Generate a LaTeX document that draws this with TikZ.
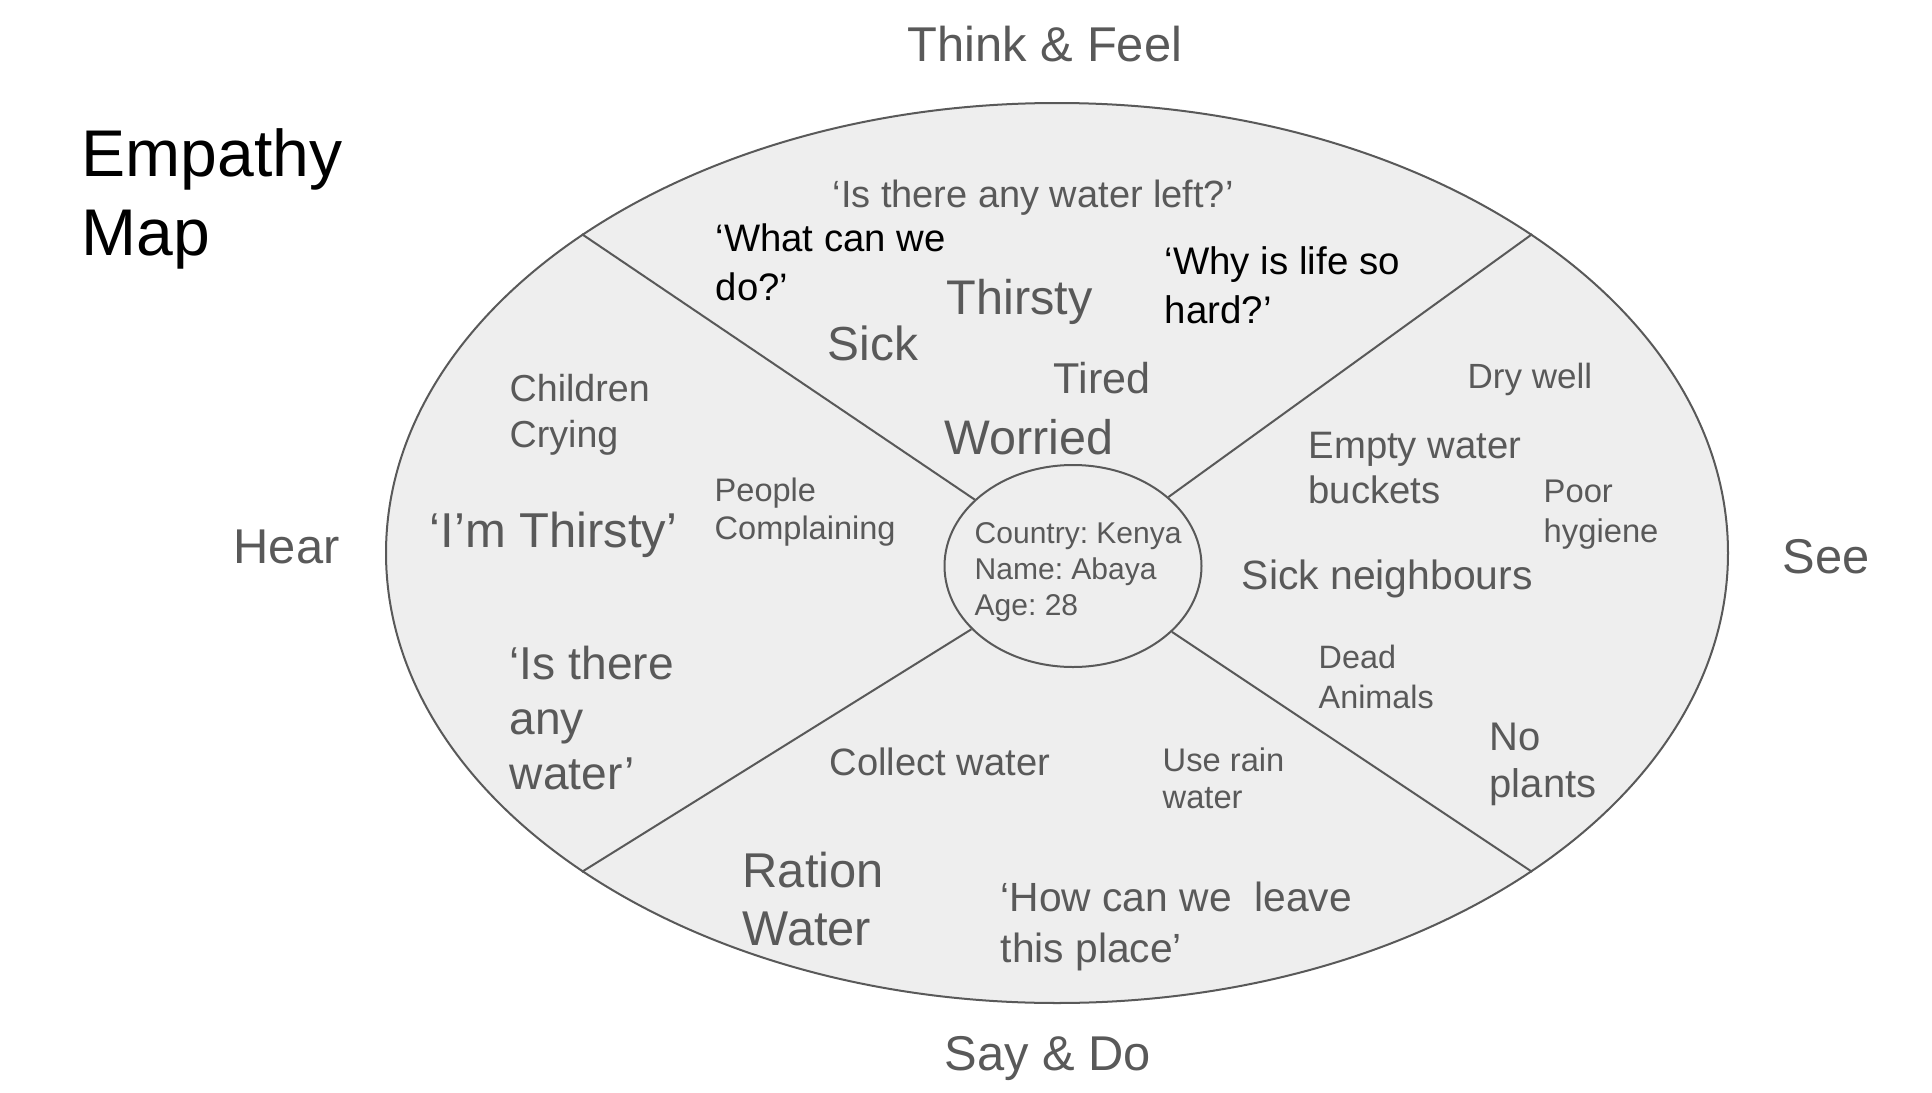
\documentclass[tikz,border=0pt]{standalone}
\usepackage{fontspec}
\setmainfont{Liberation Sans}
\usepackage{tikz}
\usetikzlibrary{shapes.geometric}

\definecolor{ink}{HTML}{595959}
\definecolor{pane}{HTML}{EEEEEE}
\newcommand{\sz}[2]{\fontsize{#1}{#2}\selectfont}
\frenchspacing

\tikzset{
  txt/.style={text=ink, inner sep=0pt, anchor=base west, align=left},
  side/.style={text=ink, inner sep=0pt, font=\sz{13.9}{16.7}},
  zone/.style={draw=ink, fill=pane, line width=0.57pt, ellipse, inner sep=0pt},
  split/.style={draw=ink, line width=0.57pt}
}

\begin{document}
\begin{tikzpicture}[x=0.1mm, y=-0.1mm]
\useasboundingbox (0,0) rectangle (1932,1093);

\node[zone, minimum width=134.2mm, minimum height=90mm] (map) at (1057,553) {};
\node[zone, minimum width=25.7mm, minimum height=20.2mm] (who) at (1073,566) {};
\draw[split] (map.north west) -- (who);
\draw[split] (map.north east) -- (who);
\draw[split] (map.south west) -- (who);
\draw[split] (map.south east) -- (who);

\node[txt, text=black, font=\sz{18.8}{22.2}] (title) at (81,255) {Empathy\\Map};

\node[side, anchor=base] (think) at (1045,61) {Think \& Feel};
\node[side, anchor=base west] (hear) at (233,563) {Hear};
\node[side, anchor=base west] (see) at (1782,573) {See};
\node[side, anchor=base] (say) at (1048,1070) {Say \& Do};

\node[txt, font=\sz{8.54}{10.24}] (info) at (974,615) {Country: Kenya\\Name: Abaya\\Age: 28};

\node[txt, font=\sz{10.8}{13}] (left) at (832,207) {‘Is there any water left?’};
\node[txt, text=black, font=\sz{10.9}{13.66}] (whatdo) at (715,300) {‘What can we\\do?’};
\node[txt, text=black, font=\sz{10.94}{13.66}] (whylife) at (1164,323) {‘Why is life so\\hard?’};
\node[txt, font=\sz{13.84}{16.6}] (thirsty) at (946,314) {Thirsty};
\node[txt, font=\sz{13.6}{16.3}] (sick) at (827,360) {Sick};
\node[txt, font=\sz{12.27}{14.7}] (tired) at (1053,393) {Tired};
\node[txt, font=\sz{13.8}{16.5}] (worried) at (944,454) {Worried};

\node[txt, font=\sz{10.7}{13.09}] (crying) at (509,447) {Children\\Crying};
\node[txt, font=\sz{13.93}{16.7}] (imthirsty) at (429,547) {‘I’m Thirsty’};
\node[txt, font=\sz{9.26}{10.81}] (complain) at (714,539) {People\\Complaining};
\node[txt, font=\sz{13.12}{15.65}] (anywater) at (509,789) {‘Is there\\any\\water’};

\node[txt, font=\sz{10.85}{13}] (collect) at (829,775) {Collect water};
\node[txt, font=\sz{9.3}{10.53}] (rain) at (1162,808) {Use rain\\water};
\node[txt, font=\sz{13.9}{16.5}] (ration) at (742,945) {Ration\\Water};
\node[txt, font=\sz{11.6}{14.23}] (leave) at (1000,962) {‘How can we~~leave\\this place’};

\node[txt, font=\sz{9.96}{12}] (drywell) at (1467,388) {Dry well};
\node[txt, font=\sz{10.88}{12.8}] (buckets) at (1308,503) {Empty water\\buckets};
\node[txt, font=\sz{9.32}{11.1}] (hygiene) at (1543,542) {Poor\\hygiene};
\node[txt, font=\sz{11.64}{14}] (neighbours) at (1241,589) {Sick neighbours};
\node[txt, font=\sz{9.2}{11.38}] (animals) at (1318,708) {Dead\\Animals};
\node[txt, font=\sz{11.37}{13.37}] (plants) at (1489,797) {No\\plants};
\end{tikzpicture}
\end{document}
